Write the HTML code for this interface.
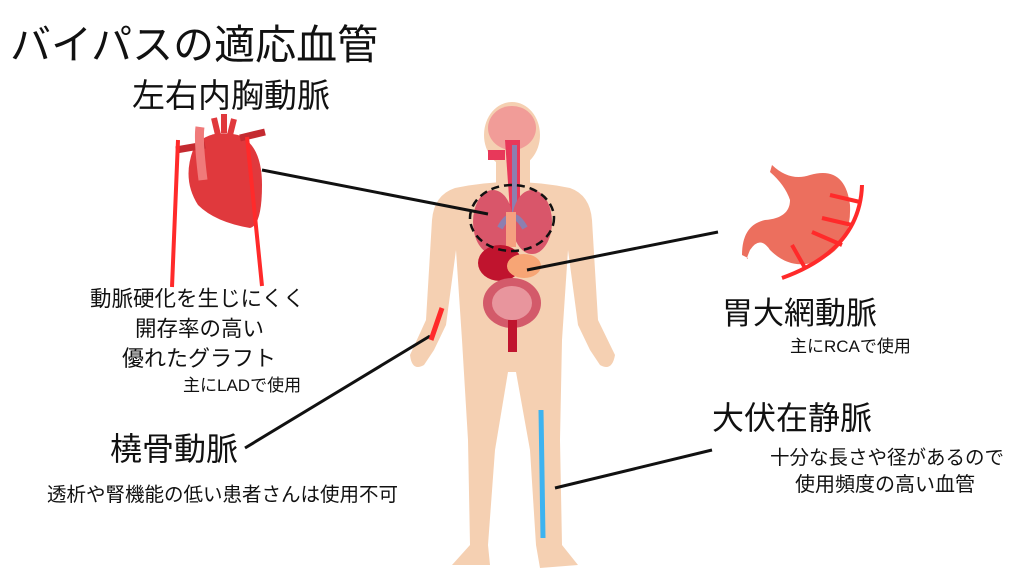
<!DOCTYPE html>
<html><head><meta charset="utf-8"><style>
body{margin:0;width:1024px;height:576px;background:#fff;position:relative;overflow:hidden;font-family:"Liberation Sans","Noto Sans CJK JP",sans-serif;color:#111}
.t{position:absolute;white-space:nowrap;line-height:1}
svg{position:absolute;left:0;top:0}
</style></head><body>
<svg width="1024" height="576" viewBox="0 0 1024 576">
<g fill="#f5d0b2">
<ellipse cx="512" cy="135" rx="28" ry="33"/>
<rect x="496" y="155" width="34" height="35"/>
<path d="M455 188 Q512 176 570 188 Q590 195 592 220 L598 320 L615 355 Q612 372 600 365 L590 350 L578 325 L568 250 L562 340 L560 440 L562 545 L578 565 L540 568 L536 545 L530 450 L516 372 L508 372 L495 450 L488 545 L490 565 L452 565 L470 545 L468 440 L462 340 L456 250 L446 325 L434 350 L424 365 Q412 372 410 355 L426 320 L432 220 Q434 195 455 188Z"/>
</g>
<ellipse cx="512" cy="128" rx="24" ry="22" fill="#f19c98"/>
<path d="M505 140 L520 140 L520 240 L512 240 Z" fill="#e8385a"/>
<rect x="512" y="145" width="5" height="95" fill="#8c7fb0"/>
<path d="M488 150 L505 150 L505 160 L488 160Z" fill="#e8385a"/>
<ellipse cx="493" cy="222" rx="20" ry="32" fill="#d9566a"/>
<ellipse cx="532" cy="222" rx="20" ry="32" fill="#d9566a"/>
<path d="M500 228 Q512 205 525 228" stroke="#8c7fb0" stroke-width="6" fill="none"/>
<rect x="506" y="212" width="10" height="35" fill="#f5a080"/>
<ellipse cx="500" cy="263" rx="22" ry="18" fill="#c0142e"/>
<ellipse cx="524" cy="266" rx="17" ry="12" fill="#f7a575"/>
<ellipse cx="512" cy="303" rx="29" ry="25" fill="#d35a6a"/>
<ellipse cx="512" cy="303" rx="20" ry="17" fill="#e8959d"/>
<rect x="508" y="320" width="9" height="32" fill="#c0142e"/>
<ellipse cx="512" cy="218" rx="42" ry="33" fill="none" stroke="#111" stroke-width="2.5" stroke-dasharray="8 5"/>
<!-- heart -->
<path d="M193 150 Q205 128 238 135 Q262 145 262 185 Q262 225 250 228 Q215 222 198 205 Q182 180 193 150Z" fill="#e0393d"/>
<path d="M176 150 L205 145" stroke="#c42a30" stroke-width="7"/>
<path d="M240 138 L265 132" stroke="#c42a30" stroke-width="7"/>
<path d="M203 180 Q198 140 200 127" stroke="#f07a7a" stroke-width="9" fill="none"/>
<path d="M218 135 L214 118 M224 133 L224 114 M230 135 L234 119" stroke="#e0393d" stroke-width="6"/>
<path d="M178 140 L172 287 M247 137 L262 286" stroke="#ff2a2a" stroke-width="4"/>
<!-- stomach -->
<path d="M772 165 Q790 182 810 175 Q845 165 850 205 Q852 250 815 262 Q790 270 770 250 Q760 235 750 250 Q745 262 748 258 L742 255 Q742 225 765 220 Q790 218 790 200 Q785 185 770 172Z" fill="#ec6f5e"/>
<path d="M862 185 Q860 250 782 278 M830 195 L860 202 M822 218 L852 225 M812 232 L842 245 M792 245 L805 268" stroke="#ff2a2a" stroke-width="4" fill="none"/>
<!-- lines -->
<path d="M262 170 L488 214 M527 270 L718 232 M245 448 L430 336 M555 488 L712 450" stroke="#111" stroke-width="3"/>
<path d="M431 340 L442 308" stroke="#ff2a2a" stroke-width="5"/>
<path d="M541 410 L543 538" stroke="#3db3f0" stroke-width="5"/>
</svg>
<div class="t" style="left:10px;top:25px;font-size:41px">バイパスの適応血管</div>
<div class="t" style="left:132px;top:79px;font-size:33px">左右内胸動脈</div>
<div class="t" style="left:90px;top:289px;font-size:21.5px">動脈硬化を生じにくく</div>
<div class="t" style="left:135px;top:319px;font-size:21.5px">開存率の高い</div>
<div class="t" style="left:122px;top:348px;font-size:22px">優れたグラフト</div>
<div class="t" style="left:183px;top:377px;font-size:17px">主にLADで使用</div>
<div class="t" style="left:110px;top:433px;font-size:32px">橈骨動脈</div>
<div class="t" style="left:47px;top:486px;font-size:19.5px">透析や腎機能の低い患者さんは使用不可</div>
<div class="t" style="left:722px;top:298px;font-size:31px">胃大網動脈</div>
<div class="t" style="left:790px;top:338px;font-size:17px">主にRCAで使用</div>
<div class="t" style="left:712px;top:402px;font-size:32px">大伏在静脈</div>
<div class="t" style="left:770px;top:449px;font-size:19.5px">十分な長さや径があるので</div>
<div class="t" style="left:795px;top:475px;font-size:20px">使用頻度の高い血管</div>
</body></html>
